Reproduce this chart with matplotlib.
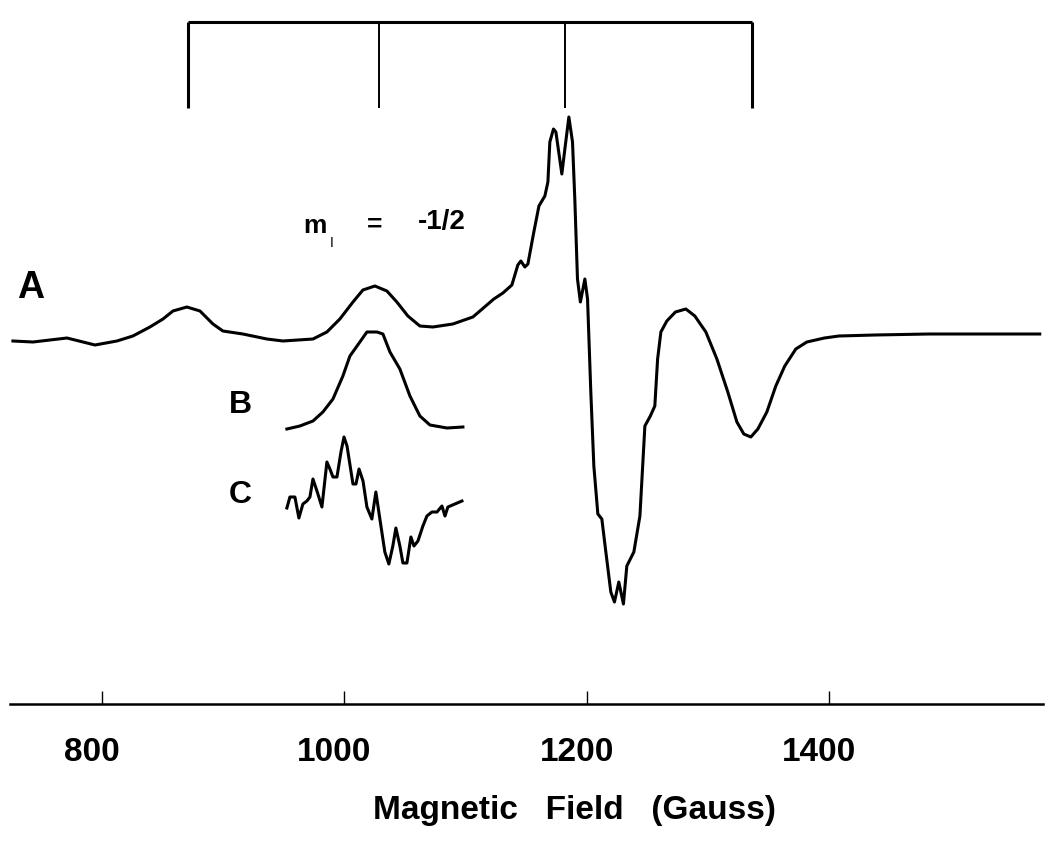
import numpy as np
import matplotlib
matplotlib.use("Agg")
import matplotlib.pyplot as plt
from matplotlib.transforms import ScaledTranslation

plt.rcParams['font.family'] = ['Liberation Sans', 'DejaVu Sans']

## spectrum A (field in gauss, signal in arb. units) ##
field_A = [726.8, 743.3, 771.4, 794.5, 812.6, 825.8, 839.8, 850.6, 858.8, 870.3,
           881.1, 891.8, 900.0, 916.5, 936.3, 949.5, 974.3, 985.8, 996.5, 1007.3,
           1015.5, 1025.4, 1035.3, 1043.5, 1052.6, 1062.5, 1073.2, 1089.7, 1106.2, 1112.0,
           1123.5, 1131.0, 1138.4, 1143.3, 1145.8, 1149.1, 1151.6, 1156.5, 1160.7, 1165.6,
           1168.1, 1169.7, 1172.7, 1174.7, 1179.6, 1182.1, 1185.4, 1188.4, 1190.3, 1192.5,
           1194.9, 1198.6, 1200.8, 1203.5, 1206.0, 1209.3, 1212.6, 1215.6, 1220.0, 1223.0,
           1226.6, 1230.4, 1233.2, 1239.0, 1244.0, 1248.1, 1252.6, 1256.3, 1258.6, 1261.3,
           1266.2, 1273.3, 1281.9, 1289.3, 1298.4, 1307.5, 1316.5, 1324.0, 1329.7, 1335.5,
           1341.3, 1348.7, 1356.1, 1363.5, 1372.6, 1381.7, 1396.2, 1408.1, 1437.8, 1482.3,
           1526.4, 1573.8]
signal_A = [-2, -3, 1, -6, -2, 3, 12, 20, 28, 32,
            28, 15, 8, 5, 0, -2, 0, 7, 20, 37,
            49, 53, 48, 37, 23, 13, 12, 15, 22, 28,
            40, 46, 54, 74, 78, 72, 75, 107, 133, 143,
            157, 197, 210, 207, 165, 190, 222, 197, 140, 60,
            37, 60, 40, -53, -127, -175, -180, -210, -253, -263,
            -243, -265, -227, -213, -177, -87, -77, -67, -20, 7,
            18, 27, 30, 23, 7, -20, -53, -83, -95, -98,
            -90, -73, -47, -27, -10, -3, 1, 3, 4, 5,
            5, 5]

## B: m_I = -1/2 line ##
field_B = [952.8, 963.5, 974.3, 982.5, 990.8, 999.0, 1004.8, 1013.0, 1018.8, 1027.1,
           1032.0, 1037.8, 1046.0, 1054.3, 1062.5, 1070.8, 1084.8, 1098.0]
signal_B = [0, 3, 8, 17, 30, 53, 73, 87, 97, 97,
            95, 77, 60, 33, 13, 4, 1, 2]

## C ##
field_C = [952.8, 955.3, 959.4, 962.7, 966.0, 969.3, 971.8, 974.3, 977.6, 981.7,
           985.8, 988.3, 990.8, 994.1, 997.4, 999.9, 1002.4, 1007.3, 1009.8, 1012.3,
           1015.6, 1018.8, 1022.9, 1026.2, 1029.5, 1033.6, 1036.9, 1040.2, 1042.7, 1046.0,
           1048.5, 1051.8, 1055.1, 1057.6, 1060.9, 1065.0, 1068.3, 1072.4, 1076.6, 1080.7,
           1083.2, 1085.6, 1091.4, 1097.2]
signal_C = [-4, 7, 7, -14, 0, 3, 7, 25, 13, -3,
            42, 35, 27, 27, 52, 67, 58, 20, 20, 35,
            23, -3, -15, 12, -15, -48, -60, -42, -24, -42,
            -59, -59, -33, -42, -37, -22, -12, -8, -8, -2,
            -12, -3, 0, 3]

## stick diagram (hyperfine positions) ##
sticks = [871.5, 1029.1, 1182.3, 1336.6]

ticks = [800, 1000, 1200, 1400]

fig = plt.figure(figsize=(10.5, 8.45), dpi=100)
ax = fig.add_axes([10/1050, 140/845, 1033/1050, 705/845])

off_B = -90
off_C = -165

ax.plot(field_A, signal_A, color='black', lw=2.2)
ax.plot(field_B, np.array(signal_B) + off_B, color='black', lw=2.2)
ax.plot(field_C, np.array(signal_C) + off_C, color='black', lw=2.2)

# stick diagram
stick_top = 317
stick_bot = 231
ax.plot([sticks[0], sticks[-1]], [stick_top, stick_top], color='black', lw=2.2,
        solid_capstyle='butt')
for i, s in enumerate(sticks):
    w = 2.2 if i in (0, 3) else 1.4
    ax.plot([s, s], [stick_bot, stick_top], color='black', lw=w, solid_capstyle='butt')

# labels
ax.text(741.7, 52, 'A', fontsize=27, fontweight='bold', ha='center', va='center')
ax.text(914.1, -65, 'B', fontsize=23, fontweight='bold', ha='center', va='center')
ax.text(914.1, -155, 'C', fontsize=23, fontweight='bold', ha='center', va='center')

ax.text(975.9, 114, 'm', fontsize=19, fontweight='bold', ha='center', va='center')
ax.text(989.9, 97, 'I', fontsize=10, ha='center', va='center')
ax.text(1025.4, 115, '=', fontsize=19, fontweight='bold', ha='center', va='center')
ax.text(1080.7, 118, '-1/2', fontsize=20, fontweight='bold', ha='center', va='center')

ax.set_xlim(724.4, 1576.5)
ax.set_ylim(-365, 340)

for sp in ['top', 'left', 'right']:
    ax.spines[sp].set_visible(False)
ax.spines['bottom'].set_linewidth(1.8)
ax.set_yticks([])
ax.set_xticks(ticks)
ax.set_xticklabels([str(t) for t in ticks], fontsize=24, fontweight='bold')
ax.tick_params(axis='x', direction='in', length=9.5, width=1.0, pad=23)
for lab in ax.get_xticklabels():
    lab.set_transform(lab.get_transform() + ScaledTranslation(-0.1, 0, fig.dpi_scale_trans))

ax.set_xlabel('Magnetic   Field   (Gauss)', fontsize=24, fontweight='bold', va='center')
ax.xaxis.set_label_coords(0.546, -0.149)

fig.savefig('out.png', dpi=100)
